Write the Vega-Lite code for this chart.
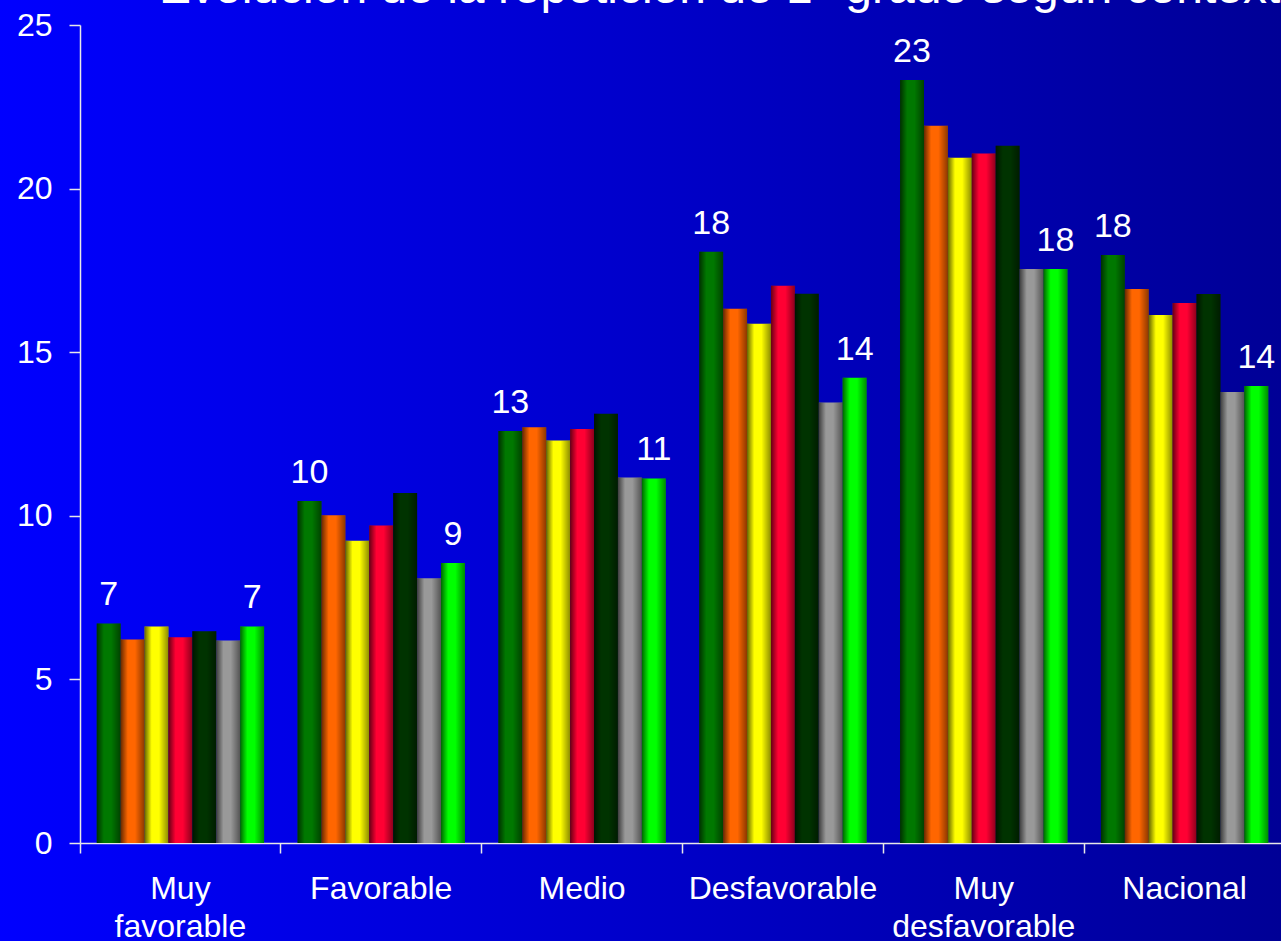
{
  "$schema": "https://vega.github.io/schema/vega-lite/v6.json",
  "width": 1281,
  "height": 941,
  "autosize": {"type": "none"},
  "padding": 0,
  "background": "#0000c8",
  "title": {
    "text": "Evolución de la repetición de 1° grado según contexto",
    "anchor": "start",
    "frame": "group",
    "orient": "top",
    "offset": -10,
    "baseline": "alphabetic",
    "dx": 159,
    "dy": 41,
    "font": "Liberation Sans",
    "fontSize": 48,
    "fontWeight": "normal",
    "color": "white"
  },
  "data": {
    "values": [
      {"grupo": "Muy favorable", "serie": "Serie 1", "valor": 6.71},
      {"grupo": "Muy favorable", "serie": "Serie 2", "valor": 6.22},
      {"grupo": "Muy favorable", "serie": "Serie 3", "valor": 6.62},
      {"grupo": "Muy favorable", "serie": "Serie 4", "valor": 6.29},
      {"grupo": "Muy favorable", "serie": "Serie 5", "valor": 6.47},
      {"grupo": "Muy favorable", "serie": "Serie 6", "valor": 6.19},
      {"grupo": "Muy favorable", "serie": "Serie 7", "valor": 6.62},
      {"grupo": "Favorable", "serie": "Serie 1", "valor": 10.45},
      {"grupo": "Favorable", "serie": "Serie 2", "valor": 10.02},
      {"grupo": "Favorable", "serie": "Serie 3", "valor": 9.24},
      {"grupo": "Favorable", "serie": "Serie 4", "valor": 9.7},
      {"grupo": "Favorable", "serie": "Serie 5", "valor": 10.7},
      {"grupo": "Favorable", "serie": "Serie 6", "valor": 8.09},
      {"grupo": "Favorable", "serie": "Serie 7", "valor": 8.56},
      {"grupo": "Medio", "serie": "Serie 1", "valor": 12.59},
      {"grupo": "Medio", "serie": "Serie 2", "valor": 12.71},
      {"grupo": "Medio", "serie": "Serie 3", "valor": 12.3},
      {"grupo": "Medio", "serie": "Serie 4", "valor": 12.65},
      {"grupo": "Medio", "serie": "Serie 5", "valor": 13.12},
      {"grupo": "Medio", "serie": "Serie 6", "valor": 11.17},
      {"grupo": "Medio", "serie": "Serie 7", "valor": 11.14},
      {"grupo": "Desfavorable", "serie": "Serie 1", "valor": 18.07},
      {"grupo": "Desfavorable", "serie": "Serie 2", "valor": 16.33},
      {"grupo": "Desfavorable", "serie": "Serie 3", "valor": 15.87},
      {"grupo": "Desfavorable", "serie": "Serie 4", "valor": 17.03},
      {"grupo": "Desfavorable", "serie": "Serie 5", "valor": 16.79},
      {"grupo": "Desfavorable", "serie": "Serie 6", "valor": 13.46},
      {"grupo": "Desfavorable", "serie": "Serie 7", "valor": 14.22},
      {"grupo": "Muy desfavorable", "serie": "Serie 1", "valor": 23.32},
      {"grupo": "Muy desfavorable", "serie": "Serie 2", "valor": 21.92},
      {"grupo": "Muy desfavorable", "serie": "Serie 3", "valor": 20.94},
      {"grupo": "Muy desfavorable", "serie": "Serie 4", "valor": 21.07},
      {"grupo": "Muy desfavorable", "serie": "Serie 5", "valor": 21.31},
      {"grupo": "Muy desfavorable", "serie": "Serie 6", "valor": 17.54},
      {"grupo": "Muy desfavorable", "serie": "Serie 7", "valor": 17.54},
      {"grupo": "Nacional", "serie": "Serie 1", "valor": 17.97},
      {"grupo": "Nacional", "serie": "Serie 2", "valor": 16.93},
      {"grupo": "Nacional", "serie": "Serie 3", "valor": 16.14},
      {"grupo": "Nacional", "serie": "Serie 4", "valor": 16.5},
      {"grupo": "Nacional", "serie": "Serie 5", "valor": 16.78},
      {"grupo": "Nacional", "serie": "Serie 6", "valor": 13.78},
      {"grupo": "Nacional", "serie": "Serie 7", "valor": 13.97}
    ]
  },
  "encoding": {
    "x": {
      "field": "grupo",
      "type": "nominal",
      "sort": ["Muy favorable", "Favorable", "Medio", "Desfavorable", "Muy desfavorable", "Nacional"],
      "scale": {"range": [80, 1285], "paddingInner": 0, "paddingOuter": 0},
      "axis": {
        "orient": "bottom",
        "offset": -98,
        "title": null,
        "bandPosition": 0,
        "labelAngle": 0,
        "labelExpr": "split(datum.value, ' ')",
        "labelBaseline": "top",
        "labelLineHeight": 38,
        "labelPadding": 20,
        "labelLimit": 0,
        "labelOverlap": false,
        "labelBound": false,
        "labelColor": "white",
        "labelFont": "Liberation Sans",
        "labelFontSize": 32,
        "tickSize": 10,
        "tickColor": "#e8e8e8",
        "tickWidth": 1.5,
        "domainColor": "#e8e8e8",
        "domainWidth": 1.5,
        "grid": false
      }
    },
    "xOffset": {
      "field": "serie",
      "type": "nominal",
      "scale": {"paddingInner": 0, "paddingOuter": 0.7}
    },
    "y": {
      "field": "valor",
      "type": "quantitative",
      "scale": {"domain": [0, 25], "range": [843, 25], "nice": false, "zero": true},
      "axis": {
        "orient": "left",
        "offset": -80,
        "values": [0, 5, 10, 15, 20, 25],
        "title": null,
        "grid": false,
        "labelColor": "white",
        "labelFont": "Liberation Sans",
        "labelFontSize": 32,
        "labelPadding": 17,
        "labelBound": false,
        "labelOverlap": false,
        "tickSize": 11,
        "tickColor": "#e8e8e8",
        "tickWidth": 1.5,
        "domainColor": "#e8e8e8",
        "domainWidth": 1.5
      }
    }
  },
  "layer": [
    {
      "mark": {"type": "bar"},
      "encoding": {
        "color": {
          "field": "serie",
          "type": "nominal",
          "scale": {
            "domain": ["Serie 1", "Serie 2", "Serie 3", "Serie 4", "Serie 5", "Serie 6", "Serie 7"],
            "range": ["#007800", "#ff6600", "#ffff00", "#ff0033", "#003300", "#999999", "#00ff00"]
          },
          "legend": null
        }
      }
    },
    {
      "mark": {
        "type": "bar",
        "fill": {
          "gradient": "linear",
          "x1": 0, "y1": 0, "x2": 1, "y2": 0,
          "stops": [
            {"offset": 0, "color": "rgba(0,0,0,0.6)"},
            {"offset": 0.3, "color": "rgba(0,0,0,0)"},
            {"offset": 0.6, "color": "rgba(0,0,0,0)"},
            {"offset": 1, "color": "rgba(0,0,0,0.45)"}
          ]
        }
      }
    },
    {
      "transform": [{"filter": "datum.serie === 'Serie 1' || datum.serie === 'Serie 7'"}],
      "mark": {
        "type": "text",
        "baseline": "alphabetic",
        "dy": -18,
        "font": "Liberation Sans",
        "fontSize": 34,
        "color": "white"
      },
      "encoding": {
        "text": {"field": "valor", "type": "quantitative", "format": ".0f"}
      }
    }
  ],
  "config": {
    "view": {
      "stroke": null,
      "fill": {
        "gradient": "linear",
        "x1": 0, "y1": 0, "x2": 1, "y2": 0,
        "stops": [
          {"offset": 0, "color": "#0000ff"},
          {"offset": 1, "color": "#000096"}
        ]
      }
    }
  }
}
